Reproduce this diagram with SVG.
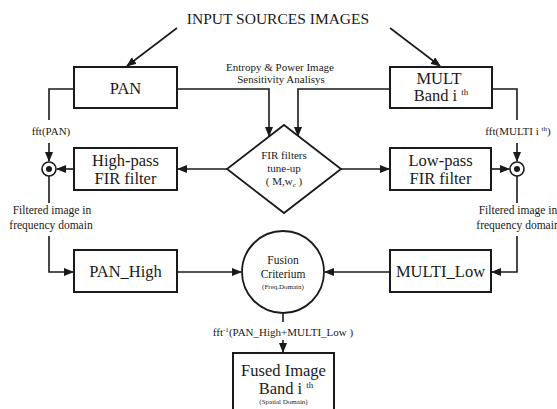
<svg xmlns="http://www.w3.org/2000/svg" width="557" height="409" viewBox="0 0 557 409">
<defs>
<marker id="ah" markerUnits="userSpaceOnUse" markerWidth="10" markerHeight="8" refX="9" refY="4" orient="auto">
<path d="M0,0 L10,4 L0,8 Z" fill="#1a1a1a"/>
</marker>
<style>
text{font-family:"Liberation Serif","Times New Roman",serif;fill:#1a1a1a}
.box{fill:#fff;stroke:#1a1a1a;stroke-width:2}
.big{font-size:16.5px;text-anchor:middle}
.sm{font-size:11px;text-anchor:middle}
.md{font-size:11.5px;text-anchor:middle}
.xs{font-size:7px;text-anchor:middle}
.c path{fill:none;stroke:#1a1a1a;stroke-width:1.6}
.a{marker-end:url(#ah)}
</style>
</defs>
<rect width="557" height="409" fill="#fff"/>
<text x="278" y="24" style="font-size:15.5px;text-anchor:middle">INPUT SOURCES IMAGES</text>
<g class="c" id="connectors">
<path class="a" d="M177,28 L127,66"/>
<path class="a" d="M390,28 L440,66"/>
<path class="a" d="M177,89 H269 V136"/>
<path class="a" d="M390,89 H298 V136"/>
<path d="M74,89 H49 V120"/>
<path class="a" d="M49,143 V161"/>
<path class="a" d="M227,169 H178"/>
<path class="a" d="M74,169 H57"/>
<path d="M49,176 V203"/>
<path class="a" d="M49,236 V272 H73"/>
<path class="a" d="M177,272 H241"/>
<path d="M492,89 H517 V120"/>
<path class="a" d="M517,143 V161"/>
<path class="a" d="M341,169 H389"/>
<path class="a" d="M491,169 H509"/>
<path d="M517,176 V203"/>
<path class="a" d="M517,236 V272 H492"/>
<path class="a" d="M390,272 H325"/>
<path d="M283,313 V322"/>
<path class="a" d="M283,340 V352"/>
</g>
<g id="pan">
<rect class="box" x="74" y="67" width="103" height="41"/>
<text class="big" x="125.5" y="94">PAN</text>
</g>
<g id="mult">
<rect class="box" x="390" y="67" width="102" height="41"/>
<text class="big" x="439" y="84">MULT</text>
<text class="big" x="441" y="101">Band i <tspan style="font-size:9px" dy="-6">th</tspan></text>
</g>
<g id="sensitivity-label">
<text class="sm" x="280" y="71">Entropy &amp; Power Image</text>
<text class="sm" x="281" y="83">Sensitivity Analisys</text>
</g>
<g id="fir-tune">
<path d="M284,125 L341,169 L284,213 L227,169 Z" fill="#fff" stroke="#1a1a1a" stroke-width="1.8"/>
<text class="sm" x="284" y="159">FIR filters</text>
<text class="sm" x="284" y="172">tune-up</text>
<text class="sm" x="284" y="185">( M,w<tspan style="font-size:7px" dy="2">c</tspan><tspan dy="-2"> )</tspan></text>
</g>
<g id="fft-pan-label"><text class="sm" x="51" y="135">fft(PAN)</text></g>
<g id="fft-multi-label"><text class="sm" x="518" y="135">fft(MULTI i <tspan style="font-size:7px" dy="-4">th</tspan><tspan dy="4">)</tspan></text></g>
<g id="high-pass">
<rect class="box" x="74" y="148" width="103" height="42"/>
<text class="big" x="125.5" y="166">High-pass</text>
<text class="big" x="125.5" y="184">FIR filter</text>
</g>
<g id="low-pass">
<rect class="box" x="390" y="148" width="101" height="42"/>
<text class="big" x="440.5" y="166">Low-pass</text>
<text class="big" x="440.5" y="184">FIR filter</text>
</g>
<g id="mult-pan">
<circle cx="49" cy="169" r="7" fill="#fff" stroke="#1a1a1a" stroke-width="1.6"/>
<circle cx="49" cy="169" r="3" fill="#1a1a1a"/>
</g>
<g id="mult-multi">
<circle cx="517" cy="169" r="7" fill="#fff" stroke="#1a1a1a" stroke-width="1.6"/>
<circle cx="517" cy="169" r="3" fill="#1a1a1a"/>
</g>
<g id="filtered-left-label">
<text class="md" x="52" y="214">Filtered image in</text>
<text class="md" x="51" y="229">frequency  domain</text>
</g>
<g id="filtered-right-label">
<text class="md" x="518" y="214">Filtered image in</text>
<text class="md" x="518" y="229">frequency  domain</text>
</g>
<g id="pan-high">
<rect class="box" x="74" y="250" width="103" height="42"/>
<text class="big" x="125.5" y="277">PAN_High</text>
</g>
<g id="multi-low">
<rect class="box" x="390" y="250" width="101" height="42"/>
<text class="big" x="440.5" y="277">MULTI_Low</text>
</g>
<g id="fusion">
<circle cx="283" cy="272" r="41" fill="#fff" stroke="#1a1a1a" stroke-width="1.8"/>
<text class="md" x="283" y="264">Fusion</text>
<text class="md" x="283" y="278">Criterium</text>
<text class="xs" x="283" y="289">(Freq.Domain)</text>
</g>
<g id="ifft-label"><text class="sm" x="283" y="336">fft<tspan style="font-size:7px" dy="-4">-1</tspan><tspan dy="4">(PAN_High+MULTI_Low )</tspan></text></g>
<g id="fused">
<rect class="box" x="233" y="353" width="101" height="62"/>
<text class="big" x="283.5" y="376">Fused Image</text>
<text class="big" x="286" y="394">Band i <tspan style="font-size:9px" dy="-6">th</tspan></text>
<text class="xs" x="283.5" y="404">(Spatial Domain)</text>
</g>
</svg>
